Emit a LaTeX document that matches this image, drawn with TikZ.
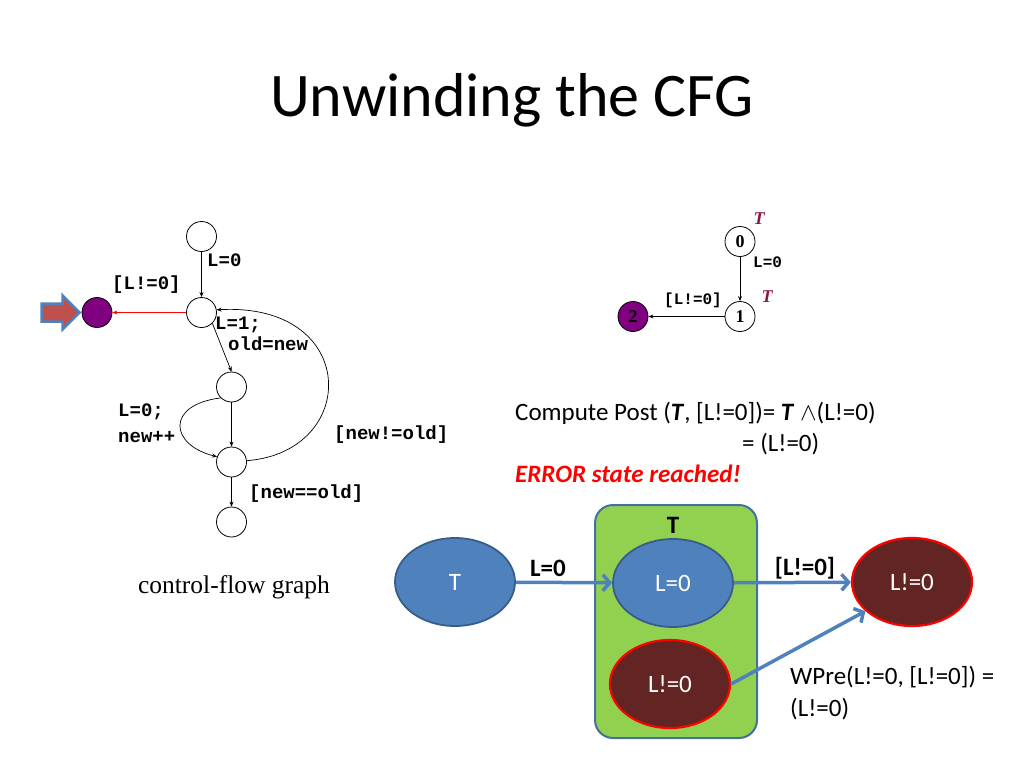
\documentclass[tikz,border=0pt]{standalone}
\usepackage{fontspec}
\setmainfont{Carlito}
\newfontfamily\courfont{Liberation Mono}
\newfontfamily\timesfont{Liberation Serif}
\usepackage{tikz}
\usetikzlibrary{arrows.meta,shapes.geometric,positioning}
\usepackage{amsmath,amssymb}
\usepackage{xcolor}
\definecolor{Offblue}{HTML}{4F81BD}
\definecolor{Offline}{HTML}{385D8A}
\definecolor{Boxline}{HTML}{41719C}
\definecolor{Limey}{HTML}{92D050}
\definecolor{Maroon}{HTML}{632523}
\definecolor{Purp}{RGB}{128,0,128}
\definecolor{Wine}{RGB}{140,20,70}
\definecolor{Brick}{HTML}{C0504D}

\begin{document}
\begin{tikzpicture}[x=1pt,y=-1pt,
  loc/.style={circle,draw,line width=0.8pt,minimum size=30pt,inner sep=0pt},
  errloc/.style={loc,fill=Purp},
  cfgedge/.style={-{Stealth[length=5pt,width=4pt]},line width=0.7pt},
  code/.style={font=\courfont\bfseries\fontsize{19}{20}\selectfont,inner sep=0pt,anchor=west},
  smallcode/.style={font=\courfont\bfseries\fontsize{16}{16}\selectfont,inner sep=0pt,anchor=west},
  txt/.style={font=\fontsize{25}{28}\selectfont,inner sep=0pt,anchor=west},
  blob/.style={ellipse,fill=Offblue,draw=Offline,line width=1.8pt,minimum width=120pt,minimum height=88pt,text=white,font=\fontsize{25}{28}\selectfont},
  badblob/.style={blob,fill=Maroon,draw=red,line width=2.2pt},
  fat/.style={draw=Offblue,line width=3.5pt,-{Straight Barb[length=7pt,width=16pt]}}]
\useasboundingbox (0,0) rectangle (1024,768);
\node[font=\fontsize{62}{70}\selectfont] (title) at (512,100) {Unwinding the CFG};
%
% control-flow graph
\node[loc] (c0) at (201.5,236.5) {};
\node[loc] (c1) at (201.5,312.5) {};
\node[errloc] (cerr) at (97,312.5) {};
\node[loc] (c2) at (231.5,387) {};
\node[loc] (c3) at (231.5,462) {};
\node[loc] (c4) at (231.5,522) {};
\draw[cfgedge] (c0) -- (c1);
\draw[cfgedge,red,line width=0.6pt] (c1) -- (cerr);
\draw[cfgedge] (c1.315) -- (c2.north);
\draw[cfgedge] (c2) -- (c3);
\draw[cfgedge] (c2.225) .. controls (165,405) and (170,445) .. (c3.160);
\draw[cfgedge] (c3.5) .. controls (360,452) and (360,302) .. (c1.10);
\draw[cfgedge] (c3) -- (c4);
\node[code] (lzero) at (207,260) {L=0};
\node[code] (lguard) at (112,285) {[L!=0]};
\node[code] (lone) at (215,325) {L=1;};
\node[code] (lold) at (228,344) {old=new};
\node[code] (lreset) at (118,412) {L=0;};
\node[code] (linc) at (118,437) {new++};
\node[code] (lneq) at (334,435) {[new!=old]};
\node[code] (leq) at (249,494) {[new==old]};
\fill[Brick,draw=Offblue,line width=2.5pt,line join=miter]
  (cerr.west) ++(-2,0) -- ++(-17,-17) -- ++(0,8) -- ++(-21,0) -- ++(0,18)
  -- ++(21,0) -- ++(0,8) -- cycle;
\node[font=\timesfont\fontsize{25.5}{28}\selectfont] (cfgname) at (234,587) {control-flow graph};
%
% abstract reachability tree
\node[loc,font=\timesfont\bfseries\fontsize{18}{18}\selectfont] (a0) at (740,241.5) {0};
\node[loc,font=\timesfont\bfseries\fontsize{18}{18}\selectfont] (a1) at (740,316.5) {1};
\node[errloc,font=\timesfont\bfseries\fontsize{18}{18}\selectfont] (a2) at (633,316.5) {2};
\draw[cfgedge] (a0) -- (a1);
\draw[cfgedge] (a1) -- (a2);
\node[font=\timesfont\bfseries\itshape\fontsize{18}{18}\selectfont,text=Wine] (t0) at (759,219) {T};
\node[font=\timesfont\bfseries\itshape\fontsize{18}{18}\selectfont,text=Wine] (t1) at (767,297) {T};
\node[smallcode] (azero) at (753,262) {L=0};
\node[smallcode] (aguard) at (664,300) {[L!=0]};
%
\node[txt] (post) at (515,413) {Compute Post (\textbf{\textit{T}}, [L!=0])= \textbf{\textit{T}} $\wedge$(L!=0)};
\node[txt] (post2) at (742,444) {= (L!=0)};
\node[txt,text=red,font=\bfseries\itshape\fontsize{25}{28}\selectfont] (err) at (515,474) {ERROR state reached!};
%
% refinement
\node[draw=Boxline,fill=Limey,rounded corners=18pt,line width=2pt,minimum width=162pt,minimum height=233pt] (box) at (676,621.5) {};
\node[font=\bfseries\fontsize{25}{28}\selectfont] (boxT) at (673,525) {T};
\node[blob] (sT) at (455,582) {T};
\node[blob] (sL) at (673,583) {L=0};
\node[badblob] (sN) at (670,684) {L!=0};
\node[badblob] (sR) at (912,582) {L!=0};
\draw[fat] (sT) -- (sL);
\draw[fat] (sL) -- (sR);
\draw[fat] (sN.east) -- (sR.212);
\node[font=\bfseries\fontsize{25}{28}\selectfont] (fzero) at (548,568) {L=0};
\node[font=\bfseries\fontsize{25}{28}\selectfont] (fguard) at (805,568) {[L!=0]};
\node[txt,anchor=north west,align=left,font=\fontsize{25}{32}\selectfont] (wpre) at (790,666) {WPre(L!=0, [L!=0]) =\\(L!=0)};
\end{tikzpicture}
\end{document}
